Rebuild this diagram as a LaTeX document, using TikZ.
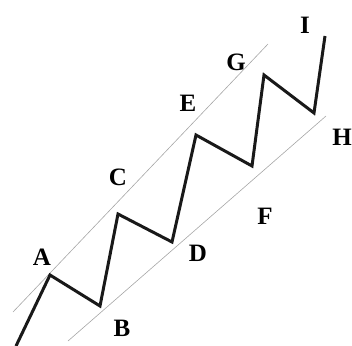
\documentclass[tikz,border=0pt]{standalone}
\usepackage{fontspec}
\setmainfont{Liberation Serif}
\usepackage{tikz}
\usetikzlibrary{calc}

\begin{document}
\begin{tikzpicture}[
    x=1pt,y=-1pt,
    wave/.style={line width=3pt,line join=miter,black!90},
    chan/.style={line width=0.6pt,gray!70},
    lbl/.style={font=\fontsize{25}{25}\selectfont\bfseries,inner sep=0pt},
]
\useasboundingbox (0,0) rectangle (352,345);

% Turning points of the wave
\coordinate (p0) at (16,346);
\coordinate (pA) at (50,275);
\coordinate (pB) at (100,306);
\coordinate (pC) at (118,214);
\coordinate (pD) at (172,242);
\coordinate (pE) at (196,135);
\coordinate (pF) at (252,166);
\coordinate (pG) at (264,75);
\coordinate (pH) at (314,113);
\coordinate (pI) at (325,36);

% Channel lines
\coordinate (u0) at (13,312);
\coordinate (u1) at (268,44);
\coordinate (l0) at (68,341);
\coordinate (l1) at (326,116);
\draw[chan] (u0) -- (u1);
\draw[chan] (l0) -- (l1);

% Wave
\draw[wave] (p0) -- (pA) -- (pB) -- (pC) -- (pD) -- (pE) -- (pF)
            -- (pG) -- (pH) -- (pI);

% Labels
\node[lbl] (A) at (42,257) {A};
\node[lbl] (B) at (122,328) {B};
\node[lbl] (C) at (118,177) {C};
\node[lbl] (D) at (198,253) {D};
\node[lbl] (E) at (188,103) {E};
\node[lbl] (F) at (265,216) {F};
\node[lbl] (G) at (236,62) {G};
\node[lbl] (H) at (342,137) {H};
\node[lbl] (I) at (305,25) {I};

\end{tikzpicture}
\end{document}
